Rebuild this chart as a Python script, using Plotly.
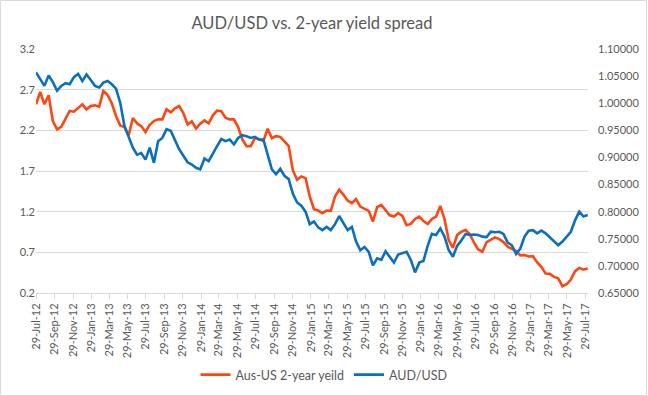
import pandas as pd
import plotly.graph_objects as go

# Biweekly observation dates (categories)
dates = pd.date_range(start="2012-07-29", periods=132, freq="14D")

spread = [
    2.520, 2.672, 2.520, 2.631, 2.314, 2.211, 2.244, 2.347, 2.438, 2.429,
    2.479, 2.520, 2.458, 2.499, 2.508, 2.491, 2.685, 2.635, 2.532, 2.376,
    2.260, 2.240, 2.137, 2.351, 2.285, 2.252, 2.178, 2.269, 2.314, 2.335,
    2.335, 2.458, 2.421, 2.471, 2.499, 2.409, 2.273, 2.310, 2.223, 2.281,
    2.322, 2.285, 2.384, 2.442, 2.434, 2.355, 2.335, 2.335, 2.240, 2.088,
    2.005, 2.005, 2.108, 2.088, 2.067, 2.219, 2.104, 2.129, 2.120, 2.063,
    2.005, 1.708, 1.593, 1.634, 1.613, 1.387, 1.230, 1.214, 1.181, 1.214,
    1.210, 1.387, 1.469, 1.407, 1.337, 1.304, 1.354, 1.263, 1.238, 1.210,
    1.078, 1.255, 1.284, 1.218, 1.156, 1.140, 1.181, 1.148, 1.033, 1.049,
    1.111, 1.140, 1.086, 1.049, 1.111, 1.140, 1.271, 1.107, 0.851, 0.756,
    0.913, 0.954, 0.975, 0.925, 0.818, 0.736, 0.707, 0.826, 0.851, 0.884,
    0.863, 0.826, 0.769, 0.744, 0.715, 0.662, 0.666, 0.649, 0.653, 0.575,
    0.521, 0.439, 0.435, 0.398, 0.381, 0.283, 0.307, 0.365, 0.468, 0.509,
    0.488, 0.501,
]

audusd = [
    1.057, 1.044, 1.032, 1.051, 1.039, 1.023, 1.032, 1.037, 1.035, 1.048,
    1.054, 1.041, 1.053, 1.043, 1.032, 1.029, 1.038, 1.041, 1.035, 1.027,
    1.001, 0.958, 0.939, 0.918, 0.905, 0.908, 0.896, 0.918, 0.890, 0.930,
    0.936, 0.952, 0.949, 0.933, 0.915, 0.903, 0.891, 0.887, 0.881, 0.878,
    0.898, 0.893, 0.908, 0.921, 0.934, 0.930, 0.933, 0.924, 0.936, 0.941,
    0.939, 0.936, 0.938, 0.933, 0.933, 0.905, 0.878, 0.869, 0.879, 0.866,
    0.860, 0.833, 0.817, 0.811, 0.800, 0.777, 0.782, 0.771, 0.766, 0.772,
    0.766, 0.777, 0.792, 0.779, 0.766, 0.772, 0.745, 0.729, 0.735, 0.726,
    0.701, 0.714, 0.711, 0.727, 0.716, 0.706, 0.721, 0.723, 0.726, 0.711,
    0.688, 0.706, 0.709, 0.737, 0.759, 0.757, 0.769, 0.754, 0.729, 0.717,
    0.737, 0.747, 0.759, 0.757, 0.758, 0.757, 0.754, 0.753, 0.763, 0.762,
    0.763, 0.759, 0.743, 0.738, 0.722, 0.732, 0.754, 0.765, 0.766, 0.760,
    0.765, 0.760, 0.752, 0.745, 0.738, 0.745, 0.754, 0.763, 0.784, 0.800,
    0.791, 0.794,
]

x_tick_labels = [
    "29-Jul-12", "29-Sep-12", "29-Nov-12", "29-Jan-13", "29-Mar-13", "29-May-13",
    "29-Jul-13", "29-Sep-13", "29-Nov-13", "29-Jan-14", "29-Mar-14", "29-May-14",
    "29-Jul-14", "29-Sep-14", "29-Nov-14", "29-Jan-15", "29-Mar-15", "29-May-15",
    "29-Jul-15", "29-Sep-15", "29-Nov-15", "29-Jan-16", "29-Mar-16", "29-May-16",
    "29-Jul-16", "29-Sep-16", "29-Nov-16", "29-Jan-17", "29-Mar-17", "29-May-17",
    "29-Jul-17",
]
x_tick_vals = pd.to_datetime(x_tick_labels, format="%d-%b-%y")

RED = "#FF4612"
BLUE = "#0A70BE"
TXT = "#595959"
FONT = "Lato, 'Open Sans', sans-serif"

fig = go.Figure()
fig.add_trace(go.Scatter(
    x=dates, y=spread, mode="lines", name="Aus-US 2-year yeild",
    line=dict(color=RED, width=2.6), yaxis="y",
))
fig.add_trace(go.Scatter(
    x=dates, y=audusd, mode="lines", name="AUD/USD",
    line=dict(color=BLUE, width=2.6), yaxis="y2",
))

W, H = 648, 396
ml, mr, mt, mb = 36, 60, 49, 103
pw = W - ml - mr
ph = H - mt - mb

fig.update_layout(
    template="none",
    width=W, height=H, autosize=False,
    margin=dict(l=ml, r=mr, t=mt, b=mb, pad=0, autoexpand=False),
    paper_bgcolor="white", plot_bgcolor="white",
    font=dict(family=FONT, color=TXT, size=11),
    title=dict(text="AUD/USD vs. 2-year yield spread", x=0.5, xref="paper",
               xanchor="center", y=1 - 23 / H, yref="container",
               yanchor="middle", automargin=False,
               font=dict(size=16.5, color=TXT, family=FONT)),
    showlegend=True,
    legend=dict(orientation="h", x=0.5, xanchor="center", xref="container",
                y=1 - 375 / H, yref="container", yanchor="middle",
                font=dict(size=12.5, color=TXT), bgcolor="rgba(0,0,0,0)",
                traceorder="normal"),
    xaxis=dict(
        type="date", automargin=False,
        range=["2012-07-29", "2017-08-07"],
        tickvals=x_tick_vals, ticktext=x_tick_labels,
        tickangle=-90, tickfont=dict(size=11, color=TXT),
        showgrid=False, showline=True, linecolor="#D9D9D9", linewidth=1,
        ticks="outside", ticklen=5, tickcolor="#D9D9D9",
        zeroline=False,
    ),
    yaxis=dict(
        automargin=False,
        range=[0.2, 3.2], tick0=0.2, dtick=0.5, tickformat=".1f",
        showgrid=True, gridcolor="#D9D9D9", gridwidth=1,
        zeroline=False, showline=False, ticks="",
        tickfont=dict(size=11, color=TXT),
    ),
    yaxis2=dict(
        automargin=False,
        range=[0.65, 1.10], tick0=0.65, dtick=0.05, tickformat=".5f",
        overlaying="y", side="right", showgrid=False, zeroline=False,
        showline=False, ticks="", ticklabelstandoff=9,
        tickfont=dict(size=11, color=TXT),
    ),
    shapes=[dict(
        type="rect", xref="paper", yref="paper",
        x0=-ml / pw + 0.5 / pw, x1=1 + (mr - 1.5) / pw,
        y0=-mb / ph + 0.5 / ph, y1=1 + (mt - 0.5) / ph,
        line=dict(color="#D9D9D9", width=1), fillcolor="rgba(0,0,0,0)",
        layer="below",
    )],
)

fig.write_html(
    "out.html",
    config={"displayModeBar": False},
    post_script="document.body.style.margin='0px';"
                "document.body.style.overflow='hidden';",
)
